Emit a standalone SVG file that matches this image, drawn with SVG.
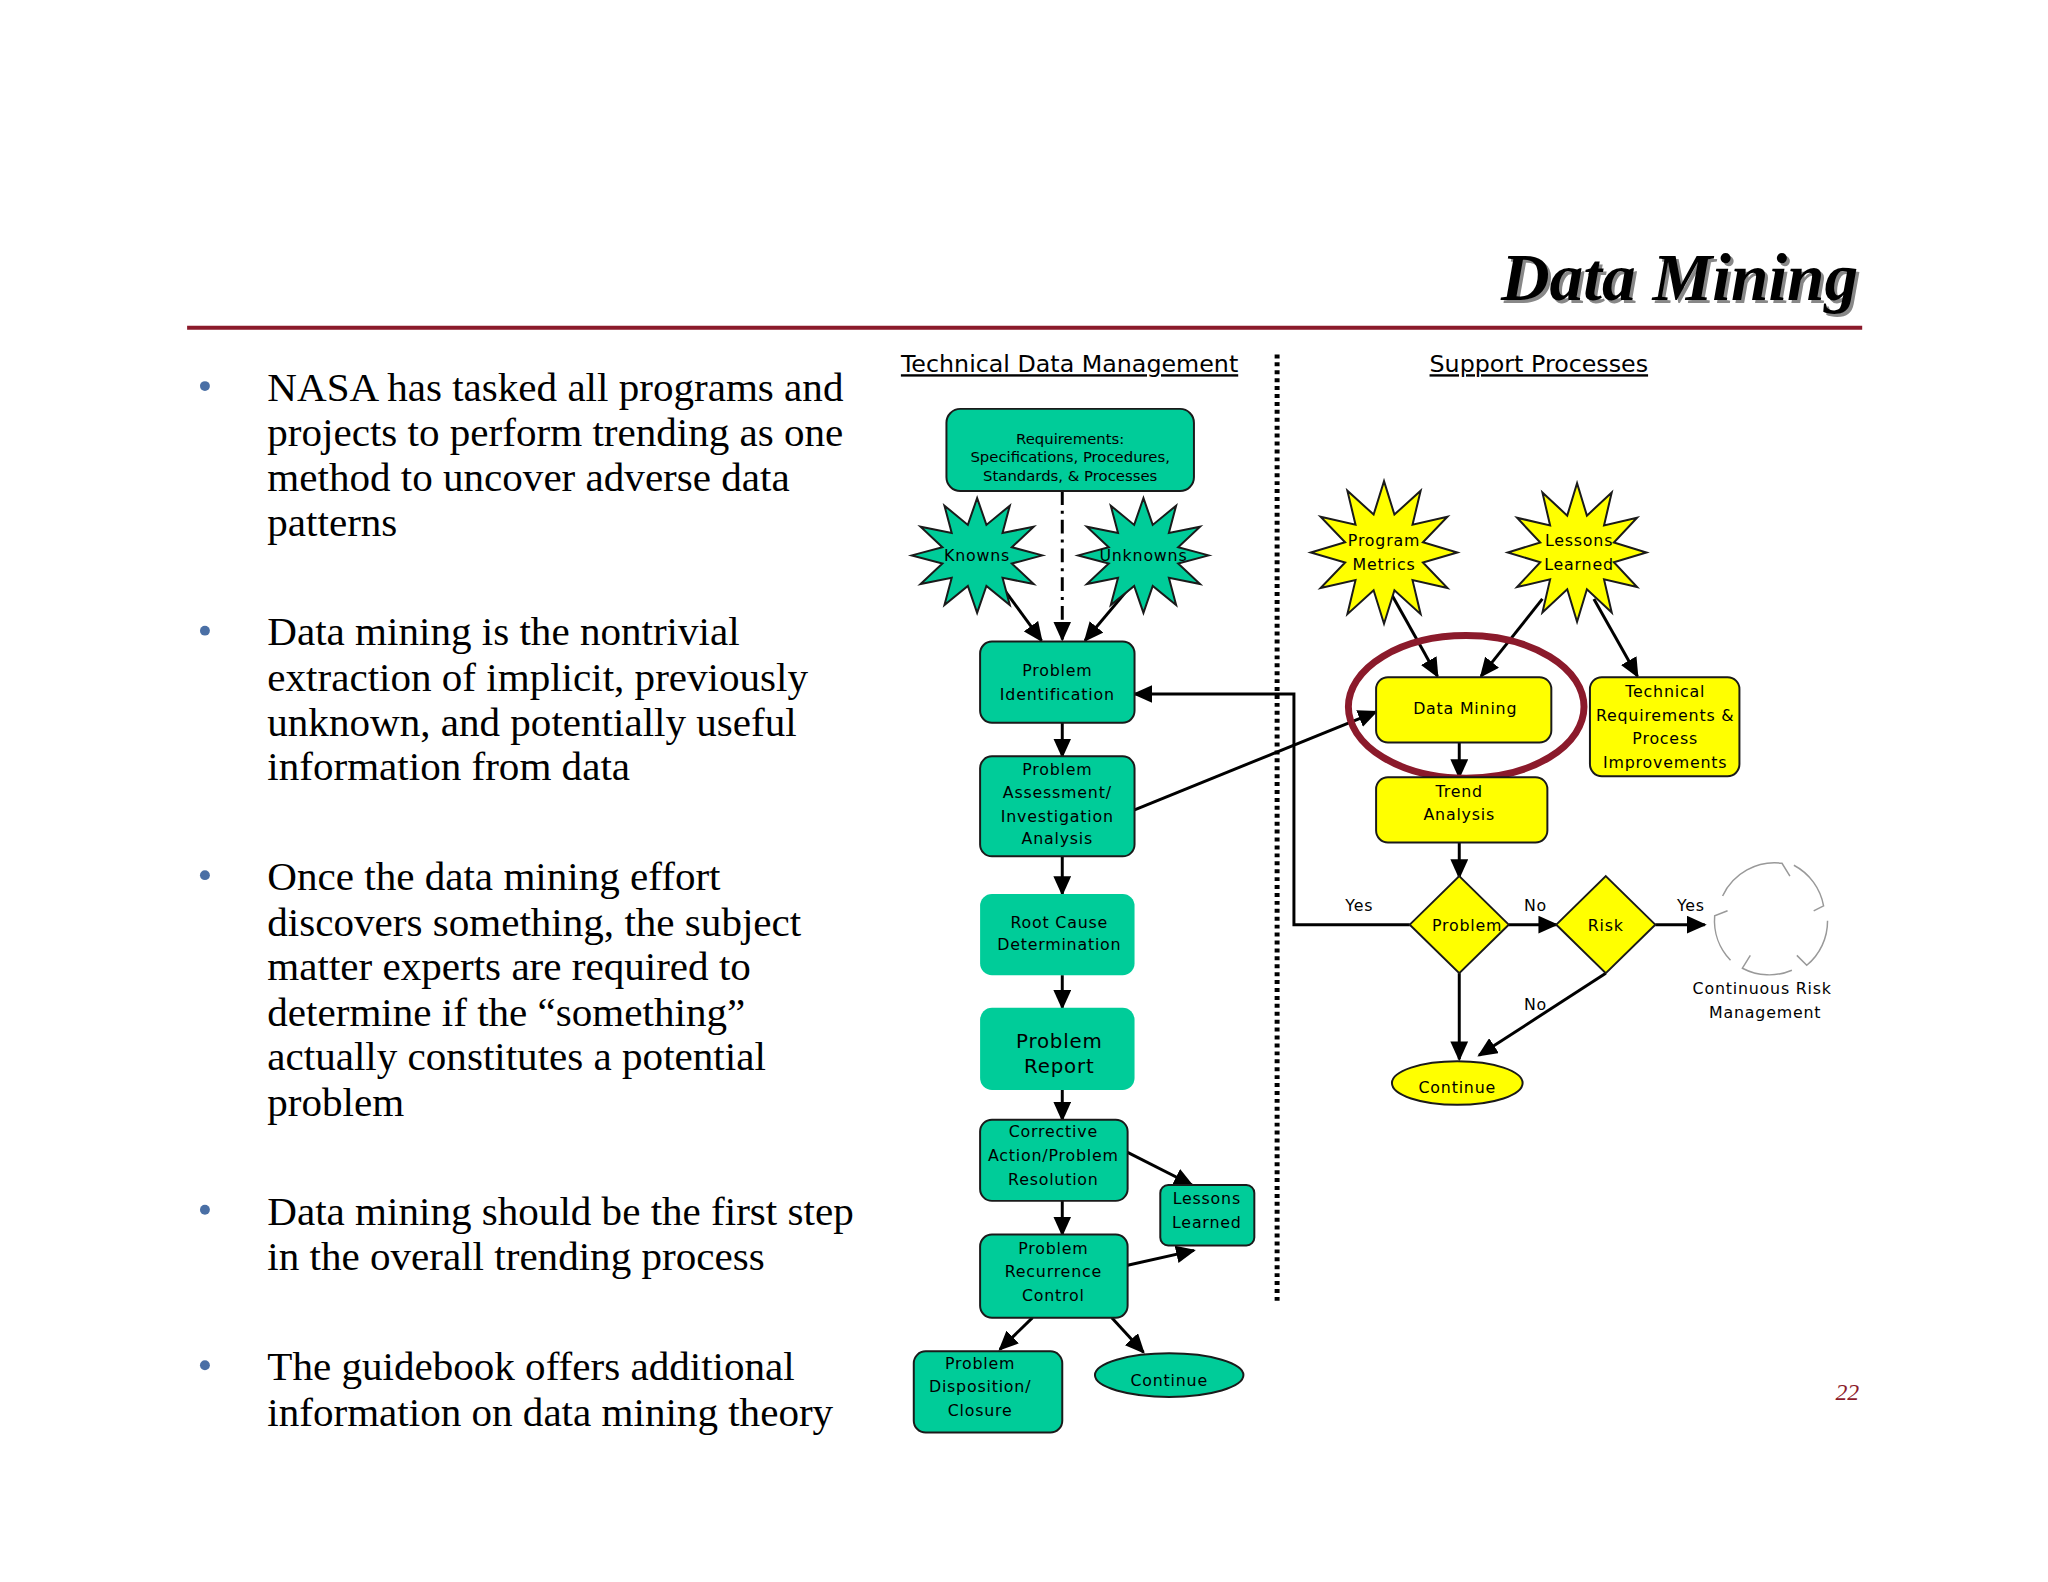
<svg xmlns="http://www.w3.org/2000/svg" xmlns:xlink="http://www.w3.org/1999/xlink" width="2048" height="1582" viewBox="0 0 2048 1582">
<style>
.g{fill:#00cc99;stroke:#1a1a1a;stroke-width:2}
.y{fill:#ffff00;stroke:#1a1a1a;stroke-width:2}
.t{font-family:"DejaVu Sans",Verdana,sans-serif;font-size:16px;letter-spacing:0.8px;fill:#000;text-anchor:middle}
.s{font-size:15px;letter-spacing:0}
.b{font-family:"Liberation Serif","Times New Roman",serif;font-size:41.5px;fill:#000}
.c{stroke:#000;stroke-width:3;fill:none}
.h{font-family:"DejaVu Sans",Verdana,sans-serif;font-size:24px;fill:#000;text-decoration:underline}
</style>
<defs>
<marker id="a" markerUnits="userSpaceOnUse" markerWidth="20" markerHeight="18" refX="18" refY="9" orient="auto"><path d="M0,0 L20,9 L0,18 Z" fill="#000"/></marker>
<polygon id="star" vector-effect="non-scaling-stroke" points="1,0 0.531,0.142 0.866,0.5 0.389,0.389 0.5,0.866 0.142,0.531 0,1 -0.142,0.531 -0.5,0.866 -0.389,0.389 -0.866,0.5 -0.531,0.142 -1,0 -0.531,-0.142 -0.866,-0.5 -0.389,-0.389 -0.5,-0.866 -0.142,-0.531 0,-1 0.142,-0.531 0.5,-0.866 0.389,-0.389 0.866,-0.5 0.531,-0.142"/>
</defs>
<rect width="2048" height="1582" fill="#fff"/>
<g transform="scale(0.99)">
<g id="title">
<text x="1880" y="306" text-anchor="end" font-family="Liberation Serif,serif" font-size="68" font-weight="bold" font-style="italic" fill="#888">Data Mining</text>
<text x="1877" y="303" text-anchor="end" font-family="Liberation Serif,serif" font-size="68" font-weight="bold" font-style="italic" fill="#000">Data Mining</text>
<line x1="189" y1="331" x2="1881" y2="331" stroke="#8b1a2b" stroke-width="4"/>
<text x="1878" y="1414" text-anchor="end" font-family="Liberation Serif,serif" font-size="24" font-style="italic" fill="#8b1a2b">22</text>
</g>
<g id="bullets">
<g fill="#4a6fa5"><circle cx="207" cy="390" r="5"/><circle cx="207" cy="637" r="5"/><circle cx="207" cy="884" r="5"/><circle cx="207" cy="1222" r="5"/><circle cx="207" cy="1379" r="5"/></g>
<text class="b"><tspan x="270" y="405">NASA has tasked all programs and</tspan><tspan x="270" y="451">projects to perform trending as one</tspan><tspan x="270" y="496">method to uncover adverse data</tspan><tspan x="270" y="541">patterns</tspan></text>
<text class="b"><tspan x="270" y="652">Data mining is the nontrivial</tspan><tspan x="270" y="698">extraction of implicit, previously</tspan><tspan x="270" y="743">unknown, and potentially useful</tspan><tspan x="270" y="788">information from data</tspan></text>
<text class="b"><tspan x="270" y="899">Once the data mining effort</tspan><tspan x="270" y="945">discovers something, the subject</tspan><tspan x="270" y="990">matter experts are required to</tspan><tspan x="270" y="1036">determine if the “something”</tspan><tspan x="270" y="1081">actually constitutes a potential</tspan><tspan x="270" y="1127">problem</tspan></text>
<text class="b"><tspan x="270" y="1237">Data mining should be the first step</tspan><tspan x="270" y="1283">in the overall trending process</tspan></text>
<text class="b"><tspan x="270" y="1394">The guidebook offers additional</tspan><tspan x="270" y="1440">information on data mining theory</tspan></text>
</g>
<g id="headers">
<text class="h" x="910" y="376">Technical Data Management </text>
<text class="h" x="1444" y="376">Support Processes </text>
<line x1="1290" y1="358" x2="1290" y2="1317" stroke="#000" stroke-width="5" stroke-dasharray="4 4"/>
</g>
<g id="connectors">
<line class="c" x1="1073" y1="496" x2="1073" y2="646" stroke-dasharray="14 6 3 6" marker-end="url(#a)"/>
<line class="c" x1="1008" y1="587" x2="1052" y2="647" marker-end="url(#a)"/>
<line class="c" x1="1143" y1="591" x2="1096" y2="647" marker-end="url(#a)"/>
<line class="c" x1="1073" y1="730" x2="1073" y2="764" marker-end="url(#a)"/>
<line class="c" x1="1073" y1="865" x2="1073" y2="903" marker-end="url(#a)"/>
<line class="c" x1="1073" y1="985" x2="1073" y2="1018" marker-end="url(#a)"/>
<line class="c" x1="1073" y1="1101" x2="1073" y2="1131" marker-end="url(#a)"/>
<line class="c" x1="1073" y1="1213" x2="1073" y2="1247" marker-end="url(#a)"/>
<line class="c" x1="1139" y1="1164" x2="1204" y2="1197" marker-end="url(#a)"/>
<line class="c" x1="1139" y1="1278" x2="1206" y2="1263" marker-end="url(#a)"/>
<line class="c" x1="1043" y1="1331" x2="1010" y2="1363" marker-end="url(#a)"/>
<line class="c" x1="1123" y1="1331" x2="1155" y2="1366" marker-end="url(#a)"/>
<line class="c" x1="1146" y1="818" x2="1390" y2="719" marker-end="url(#a)"/>
<polyline class="c" points="1424,934 1307,934 1307,701 1146,701" marker-end="url(#a)"/>
<line class="c" x1="1406" y1="601" x2="1452" y2="683" marker-end="url(#a)"/>
<line class="c" x1="1558" y1="605" x2="1496" y2="683" marker-end="url(#a)"/>
<line class="c" x1="1610" y1="605" x2="1654" y2="683" marker-end="url(#a)"/>
<line class="c" x1="1474" y1="750" x2="1474" y2="785" marker-end="url(#a)"/>
<line class="c" x1="1474" y1="851" x2="1474" y2="886" marker-end="url(#a)"/>
<line class="c" x1="1524" y1="934" x2="1572" y2="934" marker-end="url(#a)"/>
<line class="c" x1="1672" y1="934" x2="1722" y2="934" marker-end="url(#a)"/>
<line class="c" x1="1474" y1="983" x2="1474" y2="1070" marker-end="url(#a)"/>
<line class="c" x1="1622" y1="983" x2="1494" y2="1066" marker-end="url(#a)"/>
<text class="t" x="1373" y="920">Yes</text>
<text class="t" x="1551" y="920">No</text>
<text class="t" x="1708" y="920">Yes</text>
<text class="t" x="1551" y="1020">No</text>
</g>
<g id="req"><rect class="g" x="956" y="413" width="250" height="83" rx="14"/><text class="t s"><tspan x="1081" y="448">Requirements:</tspan><tspan x="1081" y="467">Specifications, Procedures,</tspan><tspan x="1081" y="486">Standards, &amp; Processes</tspan></text></g>
<g id="knowns"><use href="#star" class="g" transform="translate(987,561) scale(66,58)"/><text class="t" x="987" y="567">Knowns</text></g>
<g id="unknowns"><use href="#star" class="g" transform="translate(1155,561) scale(66,58)"/><text class="t" x="1155" y="567">Unknowns</text></g>
<g id="pi"><rect class="g" x="990" y="648" width="156" height="82" rx="12"/><text class="t"><tspan x="1068" y="683">Problem</tspan><tspan x="1068" y="707">Identification</tspan></text></g>
<g id="pa"><rect class="g" x="990" y="764" width="156" height="101" rx="12"/><text class="t"><tspan x="1068" y="783">Problem</tspan><tspan x="1068" y="806">Assessment/</tspan><tspan x="1068" y="830">Investigation</tspan><tspan x="1068" y="853">Analysis</tspan></text></g>
<g id="rc"><rect x="990" y="903" width="156" height="82" rx="12" fill="#00cc99"/><text class="t"><tspan x="1070" y="937">Root Cause</tspan><tspan x="1070" y="960">Determination</tspan></text></g>
<g id="pr"><rect x="990" y="1018" width="156" height="83" rx="12" fill="#00cc99"/><text class="t" style="font-size:20px"><tspan x="1070" y="1059">Problem</tspan><tspan x="1070" y="1084">Report</tspan></text></g>
<g id="ca"><rect class="g" x="990" y="1131" width="149" height="82" rx="12"/><text class="t"><tspan x="1064" y="1149">Corrective</tspan><tspan x="1064" y="1173">Action/Problem</tspan><tspan x="1064" y="1197">Resolution</tspan></text></g>
<g id="ll"><rect class="g" x="1172" y="1197" width="95" height="61" rx="8"/><text class="t"><tspan x="1219" y="1216">Lessons</tspan><tspan x="1219" y="1240">Learned</tspan></text></g>
<g id="prc"><rect class="g" x="990" y="1247" width="149" height="84" rx="12"/><text class="t"><tspan x="1064" y="1267">Problem</tspan><tspan x="1064" y="1290">Recurrence</tspan><tspan x="1064" y="1314">Control</tspan></text></g>
<g id="pd"><rect class="g" x="923" y="1365" width="150" height="82" rx="12"/><text class="t"><tspan x="990" y="1383">Problem</tspan><tspan x="990" y="1406">Disposition/</tspan><tspan x="990" y="1430">Closure</tspan></text></g>
<g id="cont1"><ellipse class="g" cx="1181" cy="1389" rx="75" ry="22"/><text class="t" x="1181" y="1400">Continue</text></g>
<g id="pm"><use href="#star" class="y" transform="translate(1398,558) scale(74,72)"/><text class="t"><tspan x="1398" y="552">Program</tspan><tspan x="1398" y="576">Metrics</tspan></text></g>
<g id="ls"><use href="#star" class="y" transform="translate(1593,558) scale(70,70)"/><text class="t"><tspan x="1595" y="552">Lessons</tspan><tspan x="1595" y="576">Learned</tspan></text></g>
<g id="dm"><rect class="y" x="1390" y="684" width="177" height="66" rx="12"/><text class="t" x="1480" y="721">Data Mining</text></g>
<ellipse id="highlight" cx="1481" cy="714" rx="119" ry="72" fill="none" stroke="#8b1a2b" stroke-width="7"/>
<g id="tr"><rect class="y" x="1606" y="684" width="151" height="100" rx="12"/><text class="t"><tspan x="1682" y="704">Technical</tspan><tspan x="1682" y="728">Requirements &amp;</tspan><tspan x="1682" y="752">Process</tspan><tspan x="1682" y="776">Improvements</tspan></text></g>
<g id="ta"><rect class="y" x="1390" y="785" width="173" height="66" rx="12"/><text class="t"><tspan x="1474" y="805">Trend</tspan><tspan x="1474" y="828">Analysis</tspan></text></g>
<g id="prob"><polygon class="y" points="1474,885 1524,934 1474,983 1424,934"/><text class="t" x="1482" y="940">Problem</text></g>
<g id="risk"><polygon class="y" points="1622,885 1672,934 1622,983 1572,934"/><text class="t" x="1622" y="940">Risk</text></g>
<g id="cont2"><ellipse class="y" cx="1472" cy="1094" rx="66" ry="22"/><text class="t" x="1472" y="1104">Continue</text></g>
<g id="crm" fill="none" stroke="#999" stroke-width="1.5">
<path d="M1740,905 A58,58 0 0,1 1800,872 L1808,885"/>
<path d="M1812,874 A58,58 0 0,1 1842,915 L1832,920"/>
<path d="M1846,930 A58,58 0 0,1 1825,975 L1815,965"/>
<path d="M1810,980 A58,58 0 0,1 1760,978 L1768,965"/>
<path d="M1748,970 A58,58 0 0,1 1732,925 L1745,920"/>
<text class="t" x="1780" y="1004" stroke="none">Continuous Risk</text>
<text class="t" x="1783" y="1028" stroke="none">Management</text>
</g>
</g>
</svg>
